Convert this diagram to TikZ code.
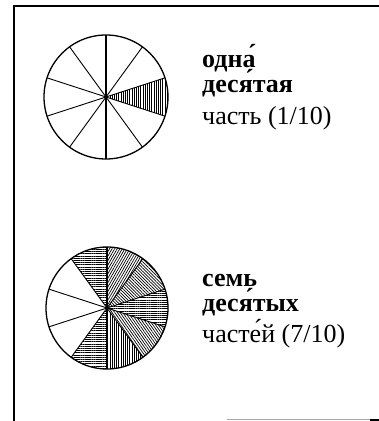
\documentclass[tikz,border=0pt]{standalone}
\usepackage{fontspec}
\setmainfont{Liberation Serif}
\usetikzlibrary{patterns.meta}

\begin{document}
\begin{tikzpicture}[
    x=1pt, y=1pt,
    rim/.style={draw, line width=1.3pt},
    spoke/.style={line width=0.9pt},
    hatch/.style={pattern={Lines[angle=#1, distance=2.2pt, line width=0.7pt]}},
    bold label/.style={anchor=base west, font=\fontsize{26}{30}\selectfont\bfseries, inner sep=0pt},
    plain label/.style={anchor=base west, font=\fontsize{26}{30}\selectfont, inner sep=0pt},
]
\useasboundingbox (0,0) rectangle (379,421);

% Frame (left, top and the bit of the bottom edge)
\coordinate (fbl) at (14,0);
\coordinate (ftl) at (14,415);
\coordinate (ftr) at (379,415);
\draw[line width=1.5pt] (fbl) -- (ftl) -- (ftr);
\coordinate (bota) at (227,1);
\coordinate (botb) at (370,1);
\coordinate (botc) at (379,1);
\draw[line width=1pt, gray!70] (bota) -- (botb);
\draw[line width=1.5pt] (botb) -- (botc);

% Top circle: one tenth
\coordinate (ca) at (106,324);
\fill[hatch=90] (ca) -- ++(-18:62) arc[start angle=-18, end angle=18, radius=62] -- cycle;
\foreach \a in {18,54,126,162,198,234,306,342}
  \draw[spoke] (ca) -- ++(\a:62);
\draw[line width=1.4pt] (ca) ++(0,62) -- ++(0,-124);
\draw[rim] (ca) circle[radius=62];

\node[bold label] (onea) at (202,353) {одна́};
\node[bold label] (oneb) at (202,328) {деся́тая};
\node[plain label] (onec) at (202,296) {часть (1/10)};

% Bottom circle: seven tenths
\coordinate (cb) at (107,113);
\foreach \a/\h in {234/0, 270/90, 306/125, 342/0, 18/135, 54/60, 90/0}
  \fill[hatch=\h] (cb) -- ++(\a:61) arc[start angle=\a, delta angle=36, radius=61] -- cycle;
\foreach \a in {18,54,126,162,198,234,306,342}
  \draw[spoke] (cb) -- ++(\a:61);
\draw[line width=1.4pt] (cb) ++(0,61) -- ++(0,-122);
\draw[rim] (cb) circle[radius=61];

\node[bold label] (twoa) at (202,134) {семь};
\node[bold label] (twob) at (202,109) {деся́тых};
\node[plain label] (twoc) at (202,78) {часте́й (7/10)};

\end{tikzpicture}
\end{document}
